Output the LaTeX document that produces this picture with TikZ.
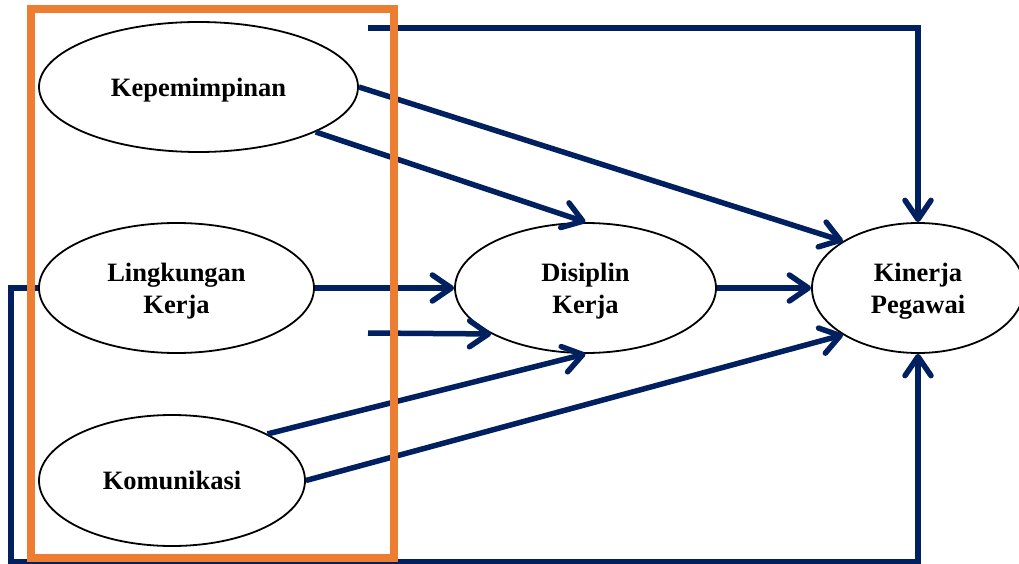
\documentclass[tikz,border=0pt]{standalone}
\usepackage{fontspec}
\setmainfont{Liberation Serif}
\usetikzlibrary{shapes.geometric,arrows.meta}
\definecolor{navy}{HTML}{002060}
\definecolor{orng}{HTML}{ED7D31}
\begin{document}
\begin{tikzpicture}[x=1pt,y=-1pt,
  var/.style={ellipse,draw=black,line width=1.8pt,fill=white,inner sep=0pt,
    align=center,text depth=0pt,font=\fontsize{26.5}{32}\selectfont\bfseries},
  conn/.style={draw=navy,line width=5.5pt,-{Straight Barb[length=19pt,width=26pt,line cap=round,line join=round]}},
  frame/.style={draw=orng,line width=8pt}]
\useasboundingbox (0,0) rectangle (1019,564);
% nodes
\node[var,minimum width=319pt,minimum height=130pt] (kep) at (198.5,87) {Kepemimpinan};
\node[var,minimum width=275pt,minimum height=130pt] (lin) at (176.5,288) {Lingkungan\\Kerja};
\node[var,minimum width=266pt,minimum height=131pt] (kom) at (172,480.5) {Komunikasi};
\node[var,minimum width=261pt,minimum height=130pt] (dis) at (585.5,288) {Disiplin\\Kerja};
\node[var,minimum width=212pt,minimum height=130pt] (kin) at (918,288) {Kinerja\\Pegawai};
% free ends
\coordinate (t0) at (368,28);
\coordinate (m0) at (368,333);
\coordinate (r1) at (11,288);
\coordinate (r2) at (918,562);
% connectors
\draw[conn] (t0) -| (kin.north);
\draw[conn] (kep.east) -- (kin.148);
\draw[conn] (kep.-21) -- (dis.north);
\draw[conn] (lin.east) -- (dis.west);
\draw[conn] (m0) -- (dis.206);
\draw[conn] (kom.26) -- (dis.south);
\draw[conn] (kom.east) -- (kin.212);
\draw[conn] (dis.east) -- (kin.west);
\draw[conn] (lin.west) -- (r1) |- (r2) -- (kin.south);
% orange frame
\draw[frame] (31,9) rectangle (394,558);
\end{tikzpicture}
\end{document}
